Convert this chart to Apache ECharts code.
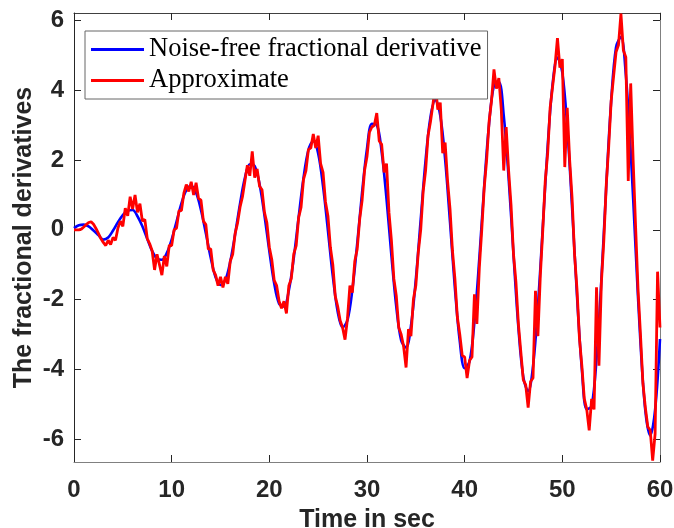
<!DOCTYPE html>
<html>
<head>
<meta charset="utf-8">
<script src="https://cdn.jsdelivr.net/npm/echarts@6/dist/echarts.min.js"></script>
<style>
  html, body { margin: 0; padding: 0; background: #fff; }
  #chart { width: 674px; height: 528px; }
</style>
</head>
<body>
<div id="chart"></div>
<script>
// 时间步长 (秒)
const blueStep = 0.5;
const redStep = 0.25;

// 无噪声分数阶导数, t = 0 ... 60, 每 0.5 s 一个点
const blueVals = [
  0.05, 0.13, 0.15, 0.10, -0.02, -0.15, -0.28, -0.22, -0.02, 0.22,
  0.42, 0.55, 0.57, 0.39, 0.10, -0.26, -0.61, -0.83, -0.86, -0.67,
  -0.28, 0.24, 0.76, 1.14, 1.26, 1.06, 0.57, -0.10, -0.80, -1.36,
  -1.58, -1.44, -0.91, -0.12, 0.75, 1.49, 1.88, 1.83, 1.31, 0.42,
  -0.61, -1.54, -2.12, -2.20, -1.73, -0.81, 0.36, 1.49, 2.29, 2.55,
  2.19, 1.25, -0.02, -1.33, -2.35, -2.80, -2.59, -1.72, -0.39, 1.08,
  2.33, 3.04, 3.01, 2.24, 0.88, -0.74, -2.21, -3.17, -3.38, -2.76,
  -1.42, 0.30, 2.00, 3.24, 3.72, 3.28, 2.02, 0.22, -1.67, -3.20,
  -3.97, -3.78, -2.64, -0.82, 1.25, 3.05, 4.14, 4.24, 3.28, 1.49,
  -0.71, -2.80, -4.22, -4.63, -3.91, -2.20, 0.09, 2.40, 4.17, 4.94,
  4.51, 2.95, 0.63, -1.89, -4.00, -5.15, -5.05, -3.70, -1.42, 1.27,
  3.69, 5.24, 5.53, 4.45, 2.26, -0.53, -3.24, -5.19, -5.90, -5.16,
  -3.13
];

// 近似值 (带噪声), t = 0 ... 60, 每 0.25 s 一个点
const redVals = [
  0.00, 0.00, 0.00, 0.02, 0.08, 0.15, 0.21, 0.23, 0.16, 0.04, -0.10, -0.25, -0.36, -0.45, -0.30, -0.42, -0.22, -0.30, 0.05, 0.25,
  0.10, 0.62, 0.40, 0.95, 0.60, 1.00, 0.50, 0.75, 0.25, 0.30, -0.25, -0.40, -0.60, -1.15, -0.70, -1.00, -1.30, -0.75, -1.05, -0.45,
  -0.45, 0.00, 0.05, 0.55, 0.55, 1.05, 1.30, 1.10, 1.38, 1.00, 1.35, 0.90, 0.85, 0.25, 0.15, -0.55, -0.55, -1.15, -1.30, -1.60,
  -1.35, -1.65, -1.35, -1.55, -0.90, -0.70, -0.10, 0.20, 0.65, 0.95, 1.40, 1.85, 1.55, 2.25, 1.50, 1.75, 1.25, 1.15, 0.50, 0.20,
  -0.50, -0.85, -1.45, -1.60, -2.05, -2.25, -2.05, -2.40, -1.60, -1.40, -0.70, -0.45, 0.35, 0.65, 1.45, 1.70, 2.30, 2.35, 2.75, 2.35,
  2.70, 1.90, 1.65, 0.80, 0.40, -0.50, -1.00, -1.90, -2.20, -2.60, -2.80, -3.15, -2.55, -1.60, -1.80, -0.90, -0.55, 0.30, 0.85, 1.70,
  2.10, 2.80, 2.95, 3.00, 3.35, 2.55, 2.45, 1.65, 1.90, 0.50, -0.30, -1.40, -1.90, -2.80, -3.00, -3.35, -3.95, -2.85, -3.05, -2.00,
  -1.60, -0.65, 0.00, 1.10, 1.70, 2.70, 3.10, 3.60, 4.15, 3.45, 3.65, 2.20, 2.50, 1.40, 0.60, -0.60, -1.40, -2.50, -3.00, -3.60,
  -3.65, -4.25, -3.75, -3.65, -1.85, -2.70, -1.10, 0.00, 1.20, 2.00, 3.10, 3.70, 4.60, 4.05, 4.35, 3.45, 1.70, 2.95, 1.70, 0.70,
  -0.70, -1.50, -2.70, -3.50, -4.30, -4.45, -5.10, -4.35, -4.25, -1.75, -3.05, -1.30, 0.00, 1.40, 2.20, 3.50, 4.10, 4.70, 5.50, 4.65,
  4.90, 1.80, 3.50, 2.00, 0.90, -0.70, -1.70, -3.10, -3.90, -4.85, -5.15, -5.75, -4.85, -5.15, -1.65, -3.90, -1.50, -0.30, 1.30, 2.40,
  3.70, 4.40, 5.10, 5.30, 6.20, 5.15, 4.95, 1.40, 4.20, 2.00, 0.10, -1.70, -3.00, -4.40, -5.10, -5.65, -5.75, -6.62, -5.85, -1.20,
  -2.80
];

// 刻度
const yTicks = [-6, -4, -2, 0, 2, 4, 6];

const blueData = blueVals.map((v, i) => [i * blueStep, v]);
const redData = redVals.map((v, i) => [i * redStep, v]);

const chart = echarts.init(document.getElementById('chart'));
const labelFont = {
  color: '#262626',
  fontSize: 24,
  fontWeight: 'bold',
  fontFamily: 'Liberation Sans, Arial, sans-serif'
};
const nameFont = {
  color: '#262626',
  fontSize: 25,
  fontWeight: 'bold',
  fontFamily: 'Liberation Sans, Arial, sans-serif'
};
const tickStyle = { show: true, inside: true, length: 7, lineStyle: { color: '#262626', width: 1 } };

chart.setOption({
  animation: false,
  backgroundColor: '#fff',
  grid: { left: 74, right: 14, top: 13, bottom: 66, containLabel: false, outerBoundsMode: 'none' },
  legend: {
    orient: 'vertical',
    left: 85,
    top: 31,
    padding: [5, 6, 5, 6],
    itemGap: 4,
    itemWidth: 53,
    itemHeight: 3,
    borderColor: '#666',
    borderWidth: 1,
    backgroundColor: '#fff',
    textStyle: {
      color: '#000',
      fontSize: 26.5,
      lineHeight: 26,
      fontFamily: 'Liberation Serif, Times New Roman, serif'
    },
    data: [
      { name: 'Noise-free fractional derivative', icon: 'rect' },
      { name: 'Approximate', icon: 'rect' }
    ]
  },
  xAxis: [
    {
      type: 'value',
      min: 0,
      max: 60,
      interval: 10,
      name: 'Time in sec',
      nameLocation: 'middle',
      nameGap: 46,
      nameMoveOverlap: false,
      nameTextStyle: nameFont,
      axisLine: { show: true, onZero: false, lineStyle: { color: '#808080', width: 1 } },
      axisTick: tickStyle,
      axisLabel: Object.assign({ margin: 16 }, labelFont),
      splitLine: { show: false }
    },
    {
      type: 'value',
      position: 'top',
      min: 0,
      max: 60,
      interval: 10,
      axisLine: { show: true, onZero: false, lineStyle: { color: '#404040', width: 1 } },
      axisTick: tickStyle,
      axisLabel: { show: false },
      splitLine: { show: false }
    }
  ],
  yAxis: [
    {
      type: 'value',
      min: -6.66,
      max: 6.22,
      name: 'The fractional derivatives',
      nameLocation: 'middle',
      nameGap: 37,
      nameMoveOverlap: false,
      nameTextStyle: nameFont,
      axisLine: { show: true, onZero: false, lineStyle: { color: '#262626', width: 1 } },
      axisTick: Object.assign({ customValues: yTicks }, tickStyle),
      axisLabel: Object.assign({ margin: 10, customValues: yTicks }, labelFont),
      splitLine: { show: false }
    },
    {
      type: 'value',
      position: 'right',
      min: -6.66,
      max: 6.22,
      axisLine: { show: true, onZero: false, lineStyle: { color: '#808080', width: 1 } },
      axisTick: Object.assign({ customValues: yTicks }, tickStyle),
      axisLabel: { show: false },
      splitLine: { show: false }
    }
  ],
  series: [
    {
      name: 'Noise-free fractional derivative',
      type: 'line',
      data: blueData,
      symbol: 'none',
      smooth: 0.35,
      lineStyle: { color: '#0000ff', width: 2.6 },
      itemStyle: { color: '#0000ff' },
      z: 2
    },
    {
      name: 'Approximate',
      type: 'line',
      data: redData,
      symbol: 'none',
      lineStyle: { color: '#ff0000', width: 2.8 },
      itemStyle: { color: '#ff0000' },
      z: 3
    }
  ]
});
</script>
</body>
</html>
